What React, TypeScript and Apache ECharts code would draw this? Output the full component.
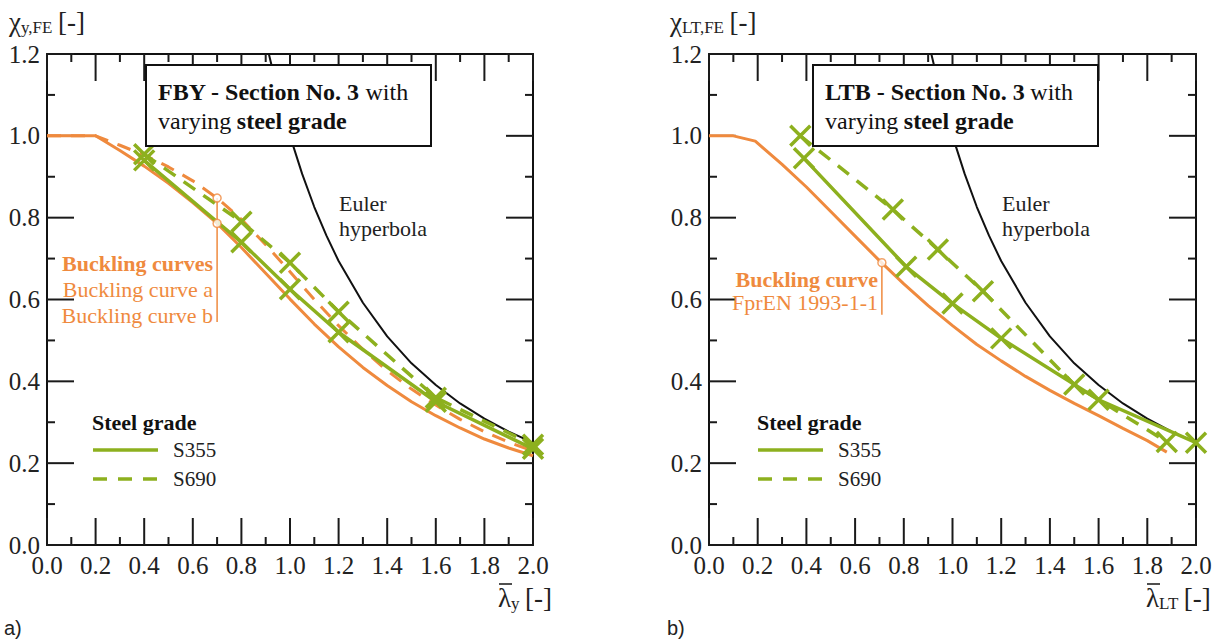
import React, { useEffect, useRef } from 'react';
import * as echarts from 'echarts';

const ORANGE = '#EF8A3E';
const GREEN = '#8DB01E';
const SERIF = '"Liberation Serif", "Times New Roman", serif';
const SANS = '"Liberation Sans", Arial, sans-serif';

// ---------- axis ticks ----------
const xMajorTicks = [0, 0.2, 0.4, 0.6, 0.8, 1.0, 1.2, 1.4, 1.6, 1.8, 2.0];
const xMinorTicks = [0.1, 0.3, 0.5, 0.7, 0.9, 1.1, 1.3, 1.5, 1.7, 1.9];
const yMajorTicks = [0, 0.2, 0.4, 0.6, 0.8, 1.0, 1.2];
const yMinorTicks = [0.1, 0.3, 0.5, 0.7, 0.9, 1.1];

// ---------- Panel a) flexural buckling (FBY) ----------
const fbyCurveB: [number, number][] = [
  [0, 1.0], [0.2, 1.0], [0.3, 0.964], [0.4, 0.926], [0.5, 0.884], [0.6, 0.837], [0.7, 0.786],
  [0.8, 0.727], [0.9, 0.664], [1.0, 0.601], [1.1, 0.540], [1.2, 0.484], [1.3, 0.434], [1.4, 0.390],
  [1.5, 0.350], [1.6, 0.316], [1.7, 0.286], [1.8, 0.259], [1.9, 0.237], [2.0, 0.218],
];
const fbyCurveA: [number, number][] = [
  [0, 1.0], [0.2, 1.0], [0.3, 0.977], [0.4, 0.953], [0.5, 0.924], [0.6, 0.890], [0.7, 0.848],
  [0.8, 0.796], [0.9, 0.734], [1.0, 0.668], [1.1, 0.600], [1.2, 0.536], [1.3, 0.478], [1.4, 0.426],
  [1.5, 0.381], [1.6, 0.342], [1.7, 0.307], [1.8, 0.277], [1.9, 0.251], [2.0, 0.230],
];
const fbyS355: [number, number][] = [[0.4, 0.94], [0.8, 0.74], [1.0, 0.625], [1.2, 0.52], [1.6, 0.35], [2.0, 0.235]];
const fbyS690: [number, number][] = [[0.4, 0.955], [0.8, 0.79], [1.0, 0.69], [1.2, 0.57], [1.6, 0.36], [2.0, 0.245]];
const fbyMarkers: [number, number][] = [[0.7, 0.848], [0.7, 0.786]];
const fbyLeader: [number, number][] = [[0.7, 0.848], [0.7, 0.545]];

// ---------- Panel b) lateral torsional buckling (LTB) ----------
const ltbCurve: [number, number][] = [
  [0, 1.0], [0.1, 1.0], [0.19, 0.987], [0.3, 0.93], [0.4, 0.875], [0.5, 0.815], [0.6, 0.755],
  [0.7, 0.695], [0.8, 0.638], [0.9, 0.585], [1.0, 0.536], [1.1, 0.49], [1.2, 0.45], [1.3, 0.412],
  [1.4, 0.378], [1.5, 0.346], [1.6, 0.316], [1.7, 0.285], [1.8, 0.255], [1.88, 0.227],
];
const ltbS355: [number, number][] = [[0.39, 0.945], [0.81, 0.68], [1.0, 0.59], [1.2, 0.505], [1.6, 0.355], [2.0, 0.25]];
const ltbS690: [number, number][] = [[0.375, 1.0], [0.755, 0.82], [0.94, 0.722], [1.125, 0.62], [1.5, 0.392], [1.88, 0.252]];
const ltbMarkers: [number, number][] = [[0.71, 0.69]];
const ltbLeader: [number, number][] = [[0.71, 0.69], [0.71, 0.563]];

// ---------- Euler hyperbola ----------
const euler: [number, number][] = [
  [0.913, 1.2], [0.95, 1.108], [1.0, 1.0], [1.05, 0.907], [1.1, 0.826], [1.15, 0.756], [1.2, 0.694],
  [1.3, 0.592], [1.4, 0.51], [1.5, 0.444], [1.6, 0.391], [1.7, 0.346], [1.8, 0.309], [1.9, 0.277], [2.0, 0.25],
];

const X_MAX = 2.0;
const Y_MAX = 1.2;
const TICK_STEP = 0.2;

const CROSS = 'path://M0,0L10,10M10,0L0,10';

function makeAxis(kind: 'x' | 'y', gridIndex: number, position: string, labels: boolean) {
  return {
    type: 'value',
    gridIndex,
    position,
    min: 0,
    max: kind === 'x' ? X_MAX : Y_MAX,
    interval: TICK_STEP,
    axisLine: { show: true, onZero: false, lineStyle: { color: '#111', width: 2 } },
    axisTick: { show: false },
    minorTick: { show: false },
    splitLine: { show: false },
    axisLabel: {
      show: labels,
      fontFamily: SERIF,
      fontSize: 25,
      color: '#222',
      margin: kind === 'x' ? 8 : 7,
      formatter: (v: number) => v.toFixed(1),
    },
  };
}

const tickData: number[][] = [
  ...xMajorTicks.map((v) => [v, 0]),
  ...xMinorTicks.map((v) => [v, 1]),
  ...yMajorTicks.map((v) => [v, 2]),
  ...yMinorTicks.map((v) => [v, 3]),
];

function tickSeries(idx: number) {
  return {
    type: 'custom',
    xAxisIndex: idx,
    yAxisIndex: idx,
    data: tickData,
    silent: true,
    clip: false,
    z: 1,
    renderItem: (_params: any, api: any) => {
      const v = api.value(0);
      const kind = api.value(1);
      const len = kind === 0 || kind === 2 ? 27 : 8;
      const st = () => ({ stroke: '#1a1a1a', lineWidth: 2 });
      if (kind < 2) {
        const b = api.coord([v, 0]);
        const t = api.coord([v, Y_MAX]);
        return {
          type: 'group',
          children: [
            { type: 'line', shape: { x1: b[0], y1: b[1], x2: b[0], y2: b[1] - len }, style: st() },
            { type: 'line', shape: { x1: t[0], y1: t[1], x2: t[0], y2: t[1] + len }, style: st() },
          ],
        };
      }
      const l = api.coord([0, v]);
      const r = api.coord([X_MAX, v]);
      return {
        type: 'group',
        children: [
          { type: 'line', shape: { x1: l[0], y1: l[1], x2: l[0] + len, y2: l[1] }, style: st() },
          { type: 'line', shape: { x1: r[0], y1: r[1], x2: r[0] - len, y2: r[1] }, style: st() },
        ],
      };
    },
  };
}

function lineSeries(data: [number, number][], idx: number, color: string, width: number, dashed: boolean, markers: boolean, z = 3) {
  return {
    type: 'line',
    xAxisIndex: idx,
    yAxisIndex: idx,
    data,
    smooth: false,
    showSymbol: markers,
    showAllSymbol: true,
    symbol: markers ? CROSS : 'none',
    symbolSize: 20,
    itemStyle: { color, borderColor: color, borderWidth: 3.5 },
    lineStyle: { color, width, type: dashed ? [14, 10] : 'solid', cap: 'butt' },
    z,
    silent: true,
  };
}

function circleSeries(data: [number, number][], idx: number) {
  return {
    type: 'scatter',
    xAxisIndex: idx,
    yAxisIndex: idx,
    data,
    symbol: 'circle',
    symbolSize: 8,
    itemStyle: { color: '#fff', borderColor: ORANGE, borderWidth: 1.5 },
    z: 6,
    silent: true,
  };
}

function leaderSeries(data: [number, number][], idx: number) {
  return {
    type: 'line',
    xAxisIndex: idx,
    yAxisIndex: idx,
    data,
    showSymbol: false,
    symbol: 'none',
    lineStyle: { color: ORANGE, width: 1.5 },
    z: 5,
    silent: true,
  };
}

function txt(x: number, y: number, text: string, opts: any = {}) {
  return {
    type: 'text',
    x,
    y,
    z: 100,
    style: {
      text,
      fontFamily: SERIF,
      fontSize: 22,
      fill: '#222',
      verticalAlign: 'middle',
      ...opts,
    },
  };
}

function panelGraphics(p: {
  box: number; boxTitle: string; euler: number; legend: number; yTitle: number; ySub: string;
  xTitle: number; xSub: string; tag: string; tagX: number;
}) {
  const g: any[] = [];
  g.push({
    type: 'rect', z: 90,
    shape: { x: p.box, y: 65, width: 285, height: 81 },
    style: { fill: '#fff', stroke: '#111', lineWidth: 2 },
  });
  const rich = {
    b: { fontFamily: SERIF, fontSize: 24, fontWeight: 'bold', fill: '#111' },
    n: { fontFamily: SERIF, fontSize: 24, fill: '#111' },
  };
  g.push(txt(p.box + 12, 92, `{b|${p.boxTitle} - Section No. 3} {n|with}`, { rich }));
  g.push(txt(p.box + 12, 121, `{n|varying} {b|steel grade}`, { rich }));
  g.push(txt(p.euler, 203, 'Euler'));
  g.push(txt(p.euler, 228, 'hyperbola'));
  g.push(txt(p.legend, 422, 'Steel grade', { fontWeight: 'bold', fontSize: 22, fill: '#111' }));
  g.push({ type: 'line', z: 100, shape: { x1: p.legend + 1, y1: 450, x2: p.legend + 66, y2: 450 }, style: { stroke: GREEN, lineWidth: 3.5 } });
  g.push({ type: 'line', z: 100, shape: { x1: p.legend + 1, y1: 479, x2: p.legend + 66, y2: 479 }, style: { stroke: GREEN, lineWidth: 3.5, lineDash: [14, 11] } });
  g.push(txt(p.legend + 81, 450, 'S355', { fontSize: 21 }));
  g.push(txt(p.legend + 81, 479, 'S690', { fontSize: 21 }));
  const trich = {
    c: { fontFamily: SERIF, fontSize: 27, fill: '#222' },
    s: { fontFamily: SERIF, fontSize: 17, fill: '#222', verticalAlign: 'bottom', padding: [7, 0, 0, 0] },
  };
  g.push(txt(p.yTitle, 22, `{c|χ}{s|${p.ySub}} {c|[-]}`, { rich: trich }));
  g.push(txt(p.xTitle, 598, `{c|λ}{s|${p.xSub}} {c|[-]}`, { rich: trich }));
  g.push({ type: 'line', z: 100, shape: { x1: p.xTitle + 1, y1: 584, x2: p.xTitle + 14, y2: 584 }, style: { stroke: '#222', lineWidth: 1.6 } });
  g.push(txt(p.tagX, 628, p.tag, { fontFamily: SANS, fontSize: 20, fill: '#222' }));
  return g;
}

export default function App() {
  const ref = useRef<HTMLDivElement>(null);
  useEffect(() => {
    document.body.style.margin = '0';
    if (!ref.current) return;
    const chart = echarts.init(ref.current, undefined, { renderer: 'svg' });
    const option: any = {
      animation: false,
      backgroundColor: '#fff',
      grid: [
        { left: 47, top: 54, width: 486, height: 491, containLabel: false },
        { left: 709, top: 54, width: 487, height: 491, containLabel: false },
      ],
      xAxis: [
        makeAxis('x', 0, 'bottom', true),
        makeAxis('x', 0, 'top', false),
        makeAxis('x', 1, 'bottom', true),
        makeAxis('x', 1, 'top', false),
      ],
      yAxis: [
        makeAxis('y', 0, 'left', true),
        makeAxis('y', 0, 'right', false),
        makeAxis('y', 1, 'left', true),
        makeAxis('y', 1, 'right', false),
      ],
      series: [
        tickSeries(0),
        lineSeries(euler, 0, '#111', 2, false, false, 2),
        lineSeries(fbyCurveB, 0, ORANGE, 3, false, false, 3),
        lineSeries(fbyCurveA, 0, ORANGE, 3, true, false, 3),
        lineSeries(fbyS355, 0, GREEN, 3.5, false, true, 4),
        lineSeries(fbyS690, 0, GREEN, 3.5, true, true, 4),
        leaderSeries(fbyLeader, 0),
        circleSeries(fbyMarkers, 0),
        tickSeries(2),
        lineSeries(euler, 2, '#111', 2, false, false, 2),
        lineSeries(ltbCurve, 2, ORANGE, 3, false, false, 3),
        lineSeries(ltbS355, 2, GREEN, 3.5, false, true, 4),
        lineSeries(ltbS690, 2, GREEN, 3.5, true, true, 4),
        leaderSeries(ltbLeader, 2),
        circleSeries(ltbMarkers, 2),
      ],
      graphic: [
        ...panelGraphics({ box: 146, boxTitle: 'FBY', euler: 339, legend: 92, yTitle: 9, ySub: 'y,FE', xTitle: 498, xSub: 'y', tag: 'a)', tagX: 4 }),
        ...panelGraphics({ box: 813, boxTitle: 'LTB', euler: 1002, legend: 757, yTitle: 670, ySub: 'LT,FE', xTitle: 1146, xSub: 'LT', tag: 'b)', tagX: 667 }),
        txt(213, 263, 'Buckling curves', { fill: ORANGE, fontWeight: 'bold', align: 'right' }),
        txt(213, 289, 'Buckling curve a', { fill: ORANGE, align: 'right' }),
        txt(213, 315, 'Buckling curve b', { fill: ORANGE, align: 'right' }),
        txt(878, 279, 'Buckling curve', { fill: ORANGE, fontWeight: 'bold', align: 'right' }),
        txt(878, 302, 'FprEN 1993-1-1', { fill: ORANGE, align: 'right' }),
      ],
    };
    chart.setOption(option);
    return () => chart.dispose();
  }, []);
  return <div ref={ref} style={{ width: 1219, height: 642 }} />;
}
